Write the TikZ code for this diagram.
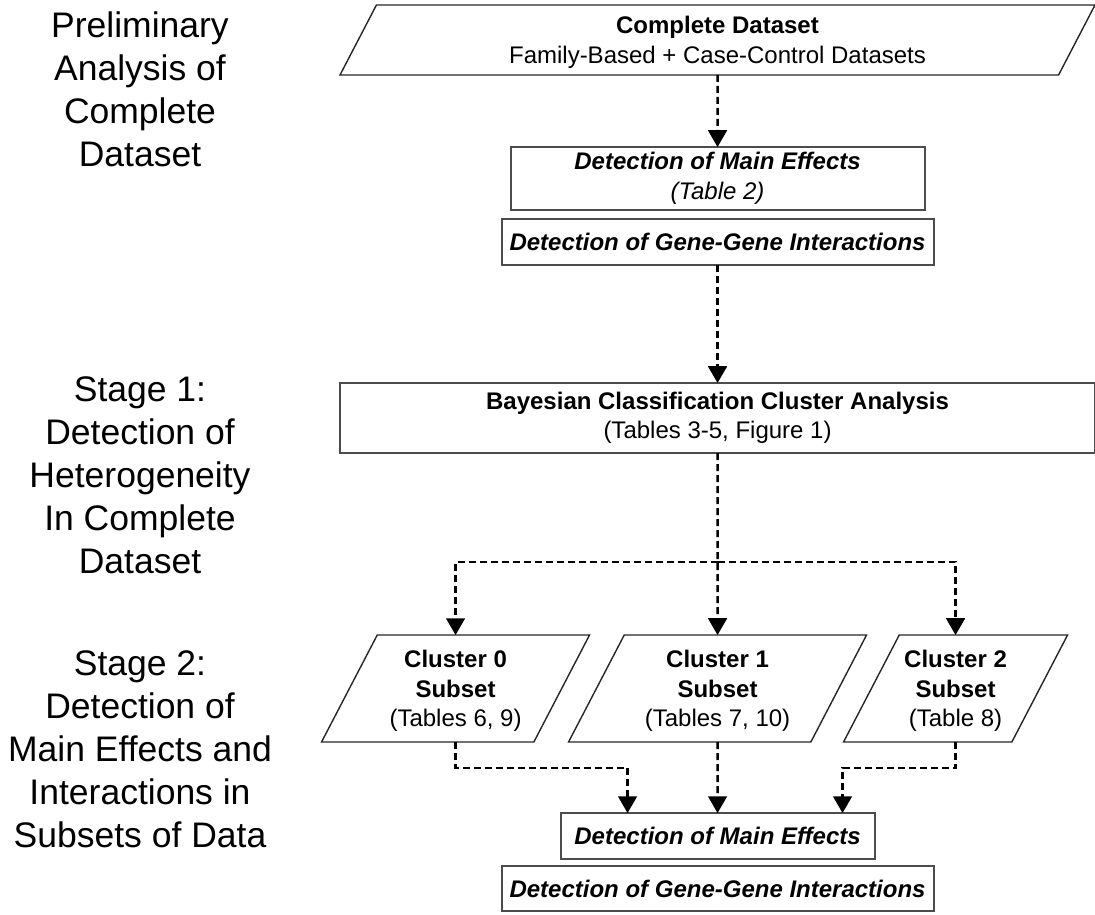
\documentclass[tikz,border=0pt]{standalone}
\usepackage{fontspec}
\setmainfont{Liberation Sans}
\usepackage{tikz}
\usetikzlibrary{positioning}
\usetikzlibrary{shapes,arrows}
\tikzstyle{block} = [rectangle, draw=black!70, line width=1pt, align=center,
                inner sep=0pt, outer sep=0pt, font=\fontsize{12}{14.75}\selectfont]
\tikzstyle{io} = [trapezium, trapezium left angle=62.5, trapezium right angle=117.5,
                trapezium stretches body, draw=black!85, line width=0.7pt, align=center,
                inner sep=0pt, outer sep=0pt, font=\fontsize{12}{14.75}\selectfont]
\tikzstyle{line} = [draw, line width=1.3pt, dash pattern=on 3.5pt off 2pt, -triangle 60]
\tikzstyle{stage} = [align=center, font=\fontsize{17.75}{21.5}\selectfont]

\begin{document}
\begin{tikzpicture}
            \useasboundingbox (0,0) rectangle (547.5pt,-457pt);
            % left column
            \node[stage] (prelim) at (70pt,-44.5pt) {Preliminary\\Analysis of\\Complete\\Dataset};
            \node[stage] (stage1) at (70pt,-237.5pt) {Stage 1:\\Detection of\\Heterogeneity\\In Complete\\Dataset};
            \node[stage] (stage2) at (70pt,-374.5pt) {Stage 2:\\Detection of\\Main Effects and\\Interactions in\\Subsets of Data};
            % flow
            \node[io, minimum width=377.5pt, text height=29.2pt, text depth=5.8pt](data) at (358.75pt,-20pt){\textbf{Complete Dataset}\\Family-Based + Case-Control Datasets};
            \node[block, below=36pt of data, minimum width=207pt, minimum height=31.5pt](main1){\textbf{\textit{Detection of Main Effects}}\\\textit{(Table 2)}};
            \node[block, below=4.5pt of main1, minimum width=216pt, minimum height=23pt](inter1){\textbf{\textit{Detection of Gene-Gene Interactions}}};
            \node[block, below=59pt of inter1, minimum width=377.5pt, minimum height=35pt](bayes){\textbf{Bayesian Classification Cluster Analysis}\\(Tables 3-5, Figure 1)};
            \node[io, below=91pt of bayes, minimum width=149pt, text height=45.8pt, text depth=7.7pt](clust1){\textbf{Cluster 1}\\\textbf{Subset}\\(Tables 7, 10)};
            \node[io, minimum width=134pt, text height=45.8pt, text depth=7.7pt](clust0) at ([xshift=-131pt]clust1.center){\textbf{Cluster 0}\\\textbf{Subset}\\(Tables 6, 9)};
            \node[io, minimum width=112pt, text height=45.8pt, text depth=7.7pt](clust2) at ([xshift=119pt]clust1.center){\textbf{Cluster 2}\\\textbf{Subset}\\(Table 8)};
            \node[block, below=35.5pt of clust1, minimum width=157pt, minimum height=23pt](main2){\textbf{\textit{Detection of Main Effects}}};
            \node[block, below=3.5pt of main2, minimum width=216pt, minimum height=22.5pt](inter2){\textbf{\textit{Detection of Gene-Gene Interactions}}};
            \coordinate[below=54.5pt of bayes] (split);
            \coordinate (in0) at ([xshift=-45pt,yshift=22.5pt]main2.north);
            \coordinate (in2) at ([xshift=62.5pt,yshift=22.5pt]main2.north);
            \path[line] (data) -- (main1);
            \path[line] (inter1) -- (bayes);
            \path[line] (bayes) -- (clust1);
            \path[line] (split) -| (clust0);
            \path[line] (split) -| (clust2);
            \path[line] (clust1) -- (main2);
            \path[line] (clust0) |- (in0) -- (in0 |- main2.north);
            \path[line] (clust2) |- (in2) -- (in2 |- main2.north);
        \end{tikzpicture}
\end{document}
